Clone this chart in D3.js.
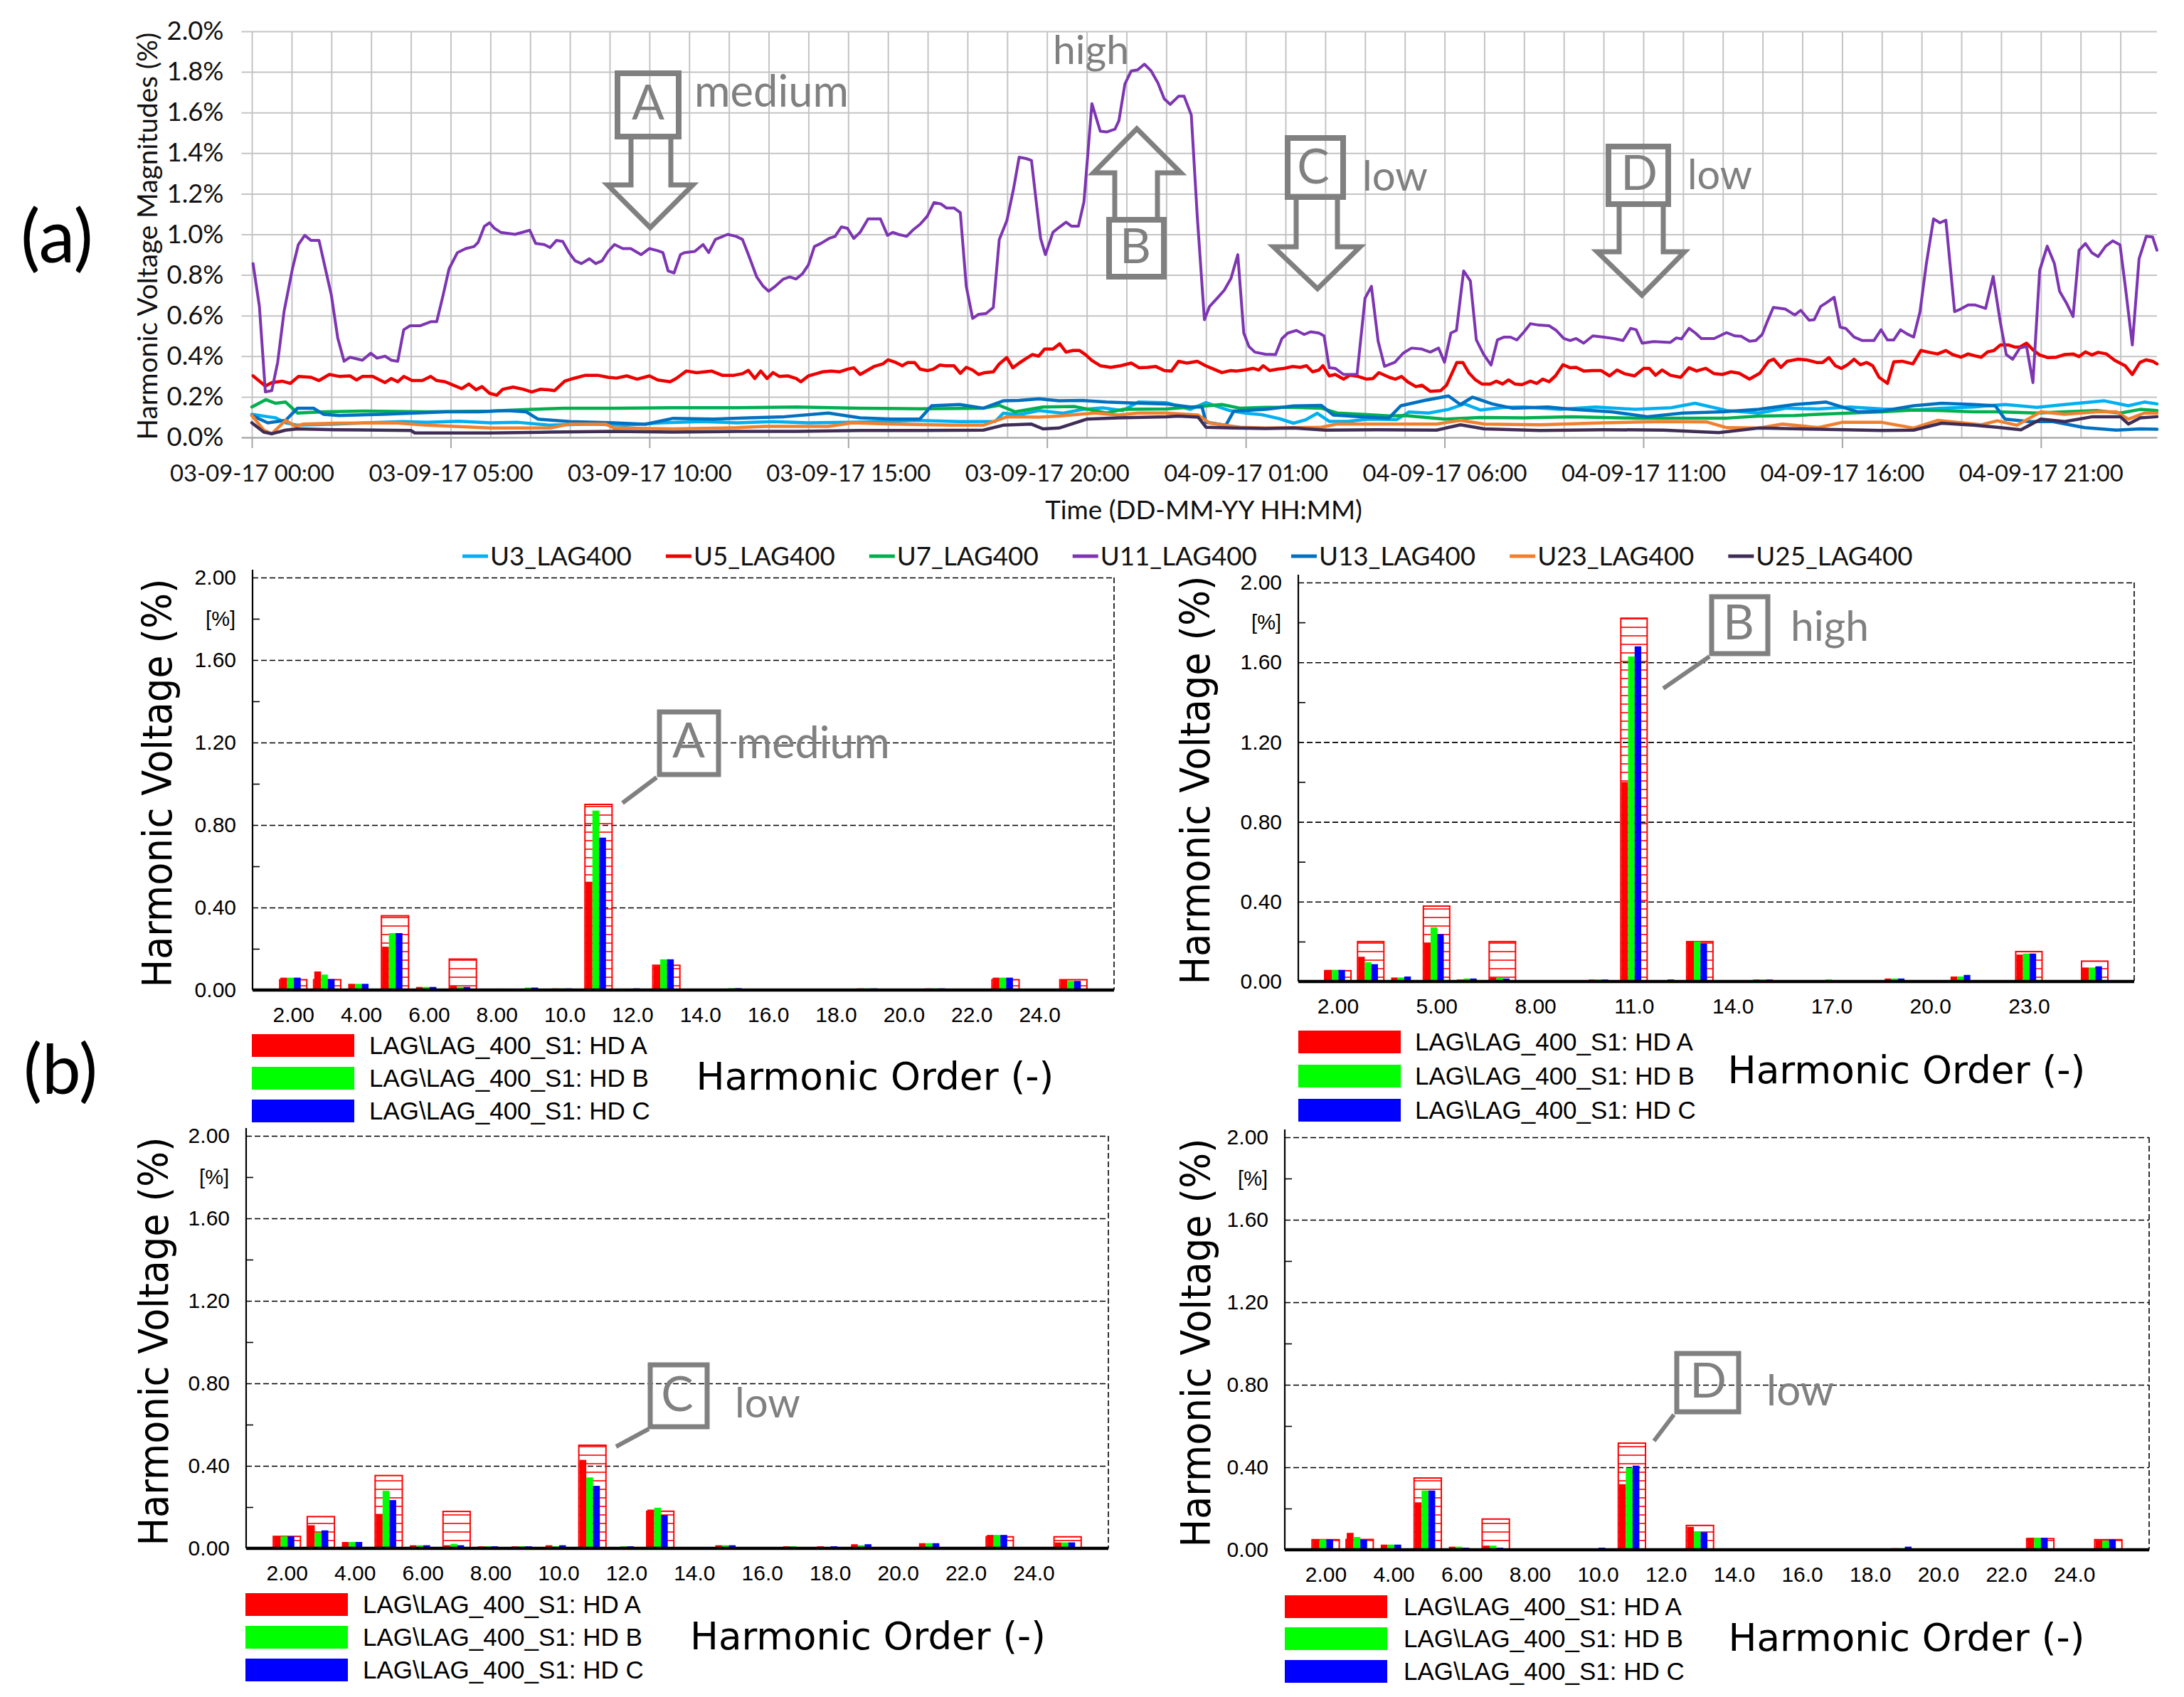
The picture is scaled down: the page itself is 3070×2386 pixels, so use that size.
<!DOCTYPE html>
<html><head><meta charset="utf-8"><title>Harmonic voltage</title>
<script src="https://cdn.jsdelivr.net/npm/d3@7"></script>
<style>html,body{margin:0;padding:0;background:#fff;}svg{display:block;}</style>
</head><body>
<svg id="chart" width="3070" height="2386" xmlns="http://www.w3.org/2000/svg"></svg>
<script>
// ================= DATA =================
// (a) time series: [hour since 03-09-17 00:00, value %]
const timeTickHours = [0,5,10,15,20,25,30,35,40,45];
const timeTickLabels = ["03-09-17 00:00","03-09-17 05:00","03-09-17 10:00","03-09-17 15:00","03-09-17 20:00","04-09-17 01:00","04-09-17 06:00","04-09-17 11:00","04-09-17 16:00","04-09-17 21:00"];
const topYTicks = [0,0.2,0.4,0.6,0.8,1.0,1.2,1.4,1.6,1.8,2.0];
const seriesNames = ["U3_LAG400","U5_LAG400","U7_LAG400","U11_LAG400","U13_LAG400","U23_LAG400","U25_LAG400"];
const seriesColors = ["#00b0f0","#ee0000","#00b050","#7d35b2","#0070c0","#f0802e","#3f2d55"];

const u3Data = [[0,0.114],[0.4,0.102],[0.6,0.096],[0.85,0.072],[1.15,0.06],[2.1,0.066],[2.9,0.072],[3.8,0.078],[4.4,0.074],[5.2,0.08],[6.0,0.072],[6.7,0.074],[7.5,0.06],[8.5,0.066],[9.4,0.06],[10.3,0.072],[11.3,0.078],[12.2,0.072],[13.1,0.078],[14.0,0.072],[15.0,0.074],[15.9,0.078],[16.7,0.084],[17.8,0.078],[18.7,0.079],[18.9,0.119],[19.3,0.112],[19.8,0.132],[20.4,0.119],[20.9,0.138],[21.4,0.145],[21.9,0.132],[22.3,0.174],[23.0,0.171],[23.6,0.138],[24.0,0.171],[24.6,0.132],[25.0,0.119],[25.4,0.112],[25.85,0.092],[26.2,0.07],[26.5,0.086],[26.8,0.119],[27.1,0.079],[27.6,0.08],[28.1,0.09],[28.8,0.088],[29.1,0.125],[29.6,0.12],[30.1,0.138],[30.5,0.165],[30.9,0.135],[31.5,0.148],[32.0,0.15],[32.9,0.138],[33.8,0.15],[34.8,0.138],[35.7,0.146],[36.3,0.168],[37.1,0.132],[37.9,0.12],[38.6,0.144],[39.4,0.14],[40.2,0.15],[41.0,0.14],[41.8,0.135],[42.5,0.144],[43.3,0.15],[44.1,0.162],[44.9,0.148],[45.6,0.162],[46.6,0.18],[47.2,0.156],[47.6,0.174],[47.92,0.165]];
const u5Data = [[0.03,0.303],[0.34,0.253],[0.5,0.27],[0.76,0.277],[0.97,0.266],[1.17,0.30],[1.49,0.296],[1.69,0.28],[1.95,0.31],[2.21,0.30],[2.47,0.303],[2.63,0.283],[2.78,0.30],[3.04,0.30],[3.35,0.27],[3.51,0.29],[3.67,0.274],[3.82,0.30],[4.03,0.28],[4.29,0.28],[4.5,0.30],[4.65,0.28],[4.86,0.274],[5.07,0.257],[5.28,0.24],[5.46,0.263],[5.64,0.235],[5.79,0.25],[5.98,0.217],[6.16,0.208],[6.31,0.237],[6.57,0.248],[6.83,0.237],[7.04,0.224],[7.25,0.237],[7.46,0.235],[7.61,0.23],[7.87,0.277],[8.08,0.29],[8.39,0.306],[8.7,0.306],[8.96,0.296],[9.17,0.292],[9.43,0.303],[9.69,0.287],[10.0,0.303],[10.21,0.283],[10.52,0.274],[10.67,0.29],[10.93,0.327],[11.19,0.319],[11.56,0.327],[11.83,0.306],[12.13,0.306],[12.34,0.314],[12.49,0.33],[12.65,0.29],[12.8,0.327],[12.96,0.29],[13.11,0.319],[13.27,0.30],[13.48,0.303],[13.69,0.29],[13.81,0.274],[14.0,0.303],[14.2,0.314],[14.36,0.323],[14.57,0.327],[14.78,0.323],[14.98,0.336],[15.14,0.343],[15.3,0.31],[15.66,0.35],[15.87,0.362],[16.0,0.382],[16.2,0.369],[16.36,0.353],[16.5,0.369],[16.67,0.369],[16.81,0.336],[16.99,0.329],[17.14,0.336],[17.3,0.356],[17.45,0.353],[17.66,0.353],[17.82,0.316],[17.97,0.345],[18.13,0.332],[18.28,0.31],[18.44,0.319],[18.65,0.323],[18.8,0.362],[18.99,0.393],[19.14,0.343],[19.3,0.366],[19.48,0.389],[19.63,0.408],[19.79,0.40],[19.94,0.435],[20.15,0.435],[20.32,0.461],[20.48,0.42],[20.65,0.428],[20.82,0.428],[20.98,0.406],[21.13,0.379],[21.34,0.353],[21.6,0.345],[21.85,0.353],[22.12,0.366],[22.32,0.343],[22.53,0.345],[22.74,0.349],[22.95,0.329],[23.13,0.327],[23.31,0.375],[23.52,0.366],[23.78,0.375],[23.99,0.353],[24.2,0.336],[24.4,0.319],[24.61,0.329],[24.77,0.327],[24.97,0.332],[25.18,0.34],[25.33,0.332],[25.44,0.353],[25.6,0.329],[25.8,0.336],[25.96,0.34],[26.17,0.349],[26.37,0.345],[26.53,0.353],[26.68,0.323],[26.84,0.332],[26.94,0.353],[27.1,0.303],[27.25,0.31],[27.46,0.287],[27.62,0.306],[27.83,0.30],[28.04,0.287],[28.2,0.29],[28.35,0.319],[28.61,0.296],[28.76,0.287],[28.92,0.30],[29.07,0.274],[29.28,0.25],[29.43,0.257],[29.64,0.227],[29.9,0.23],[30.05,0.257],[30.31,0.369],[30.46,0.369],[30.62,0.316],[30.78,0.283],[30.94,0.263],[31.15,0.263],[31.3,0.277],[31.46,0.263],[31.61,0.283],[31.77,0.263],[31.95,0.26],[32.16,0.277],[32.32,0.266],[32.47,0.287],[32.63,0.274],[32.79,0.303],[32.98,0.358],[33.16,0.343],[33.31,0.345],[33.5,0.327],[33.73,0.329],[33.94,0.329],[34.15,0.303],[34.34,0.332],[34.52,0.314],[34.78,0.303],[35.01,0.34],[35.15,0.34],[35.31,0.306],[35.47,0.332],[35.68,0.306],[35.94,0.296],[36.15,0.343],[36.34,0.327],[36.57,0.34],[36.78,0.314],[36.99,0.31],[37.2,0.323],[37.41,0.316],[37.67,0.287],[37.93,0.316],[38.15,0.375],[38.28,0.385],[38.46,0.345],[38.62,0.375],[38.88,0.385],[39.1,0.382],[39.36,0.369],[39.51,0.369],[39.67,0.393],[39.83,0.353],[39.98,0.34],[40.14,0.358],[40.3,0.385],[40.46,0.358],[40.62,0.369],[40.77,0.353],[40.93,0.296],[41.14,0.266],[41.3,0.372],[41.51,0.375],[41.78,0.362],[41.98,0.428],[42.19,0.419],[42.4,0.411],[42.61,0.428],[42.78,0.408],[42.99,0.395],[43.17,0.411],[43.38,0.40],[43.5,0.395],[43.66,0.421],[43.82,0.428],[43.98,0.455],[44.19,0.455],[44.34,0.445],[44.47,0.445],[44.64,0.464],[44.82,0.428],[44.97,0.406],[45.18,0.393],[45.39,0.395],[45.6,0.408],[45.81,0.411],[45.96,0.398],[46.12,0.421],[46.28,0.406],[46.44,0.419],[46.65,0.411],[46.86,0.379],[47.12,0.353],[47.3,0.31],[47.49,0.369],[47.65,0.382],[47.81,0.375],[47.92,0.362]];
const u7Data = [[0,0.15],[0.35,0.186],[0.6,0.168],[0.85,0.174],[1.15,0.12],[1.8,0.126],[2.9,0.13],[4.4,0.126],[6.0,0.13],[7.05,0.138],[7.85,0.144],[9.1,0.144],[10.6,0.146],[12.2,0.146],[13.7,0.15],[15.3,0.144],[16.8,0.141],[18.4,0.144],[18.8,0.158],[19.2,0.126],[19.9,0.15],[20.7,0.152],[21.5,0.12],[21.9,0.138],[23.0,0.14],[24.0,0.155],[24.4,0.162],[24.85,0.144],[25.5,0.148],[26.2,0.148],[26.9,0.144],[27.3,0.12],[27.9,0.114],[28.6,0.106],[29.0,0.108],[30.0,0.09],[30.9,0.098],[32.0,0.096],[33.2,0.102],[34.8,0.095],[36.3,0.095],[37.1,0.095],[37.9,0.105],[38.8,0.108],[39.4,0.114],[40.2,0.12],[41.0,0.126],[41.8,0.135],[42.5,0.132],[43.3,0.126],[43.9,0.126],[44.9,0.12],[45.6,0.126],[46.4,0.132],[47.0,0.12],[47.5,0.138],[47.92,0.132]];
const u11Data = [[0.03,0.856],[0.19,0.645],[0.34,0.224],[0.5,0.23],[0.65,0.37],[0.81,0.62],[1.02,0.83],[1.17,0.95],[1.33,0.995],[1.49,0.97],[1.69,0.97],[1.85,0.83],[2.0,0.70],[2.16,0.49],[2.32,0.375],[2.47,0.395],[2.78,0.38],[2.99,0.415],[3.15,0.39],[3.35,0.40],[3.51,0.38],[3.67,0.375],[3.82,0.53],[3.98,0.55],[4.24,0.55],[4.5,0.57],[4.65,0.57],[4.81,0.70],[4.96,0.83],[5.17,0.91],[5.38,0.93],[5.59,0.94],[5.69,0.96],[5.85,1.04],[5.98,1.057],[6.1,1.03],[6.26,1.01],[6.62,1.0],[6.99,1.02],[7.14,0.955],[7.35,0.95],[7.5,0.935],[7.66,0.97],[7.82,0.965],[7.98,0.91],[8.13,0.87],[8.29,0.856],[8.49,0.88],[8.65,0.856],[8.81,0.87],[8.96,0.916],[9.12,0.95],[9.33,0.93],[9.53,0.93],[9.79,0.90],[10.0,0.93],[10.2,0.92],[10.34,0.91],[10.47,0.82],[10.62,0.81],[10.78,0.90],[10.88,0.91],[11.14,0.916],[11.35,0.95],[11.49,0.91],[11.66,0.975],[11.97,1.0],[12.18,0.99],[12.34,0.975],[12.49,0.90],[12.7,0.79],[12.86,0.745],[13.0,0.72],[13.17,0.745],[13.37,0.78],[13.53,0.79],[13.69,0.78],[13.85,0.806],[14.0,0.85],[14.15,0.94],[14.31,0.955],[14.52,0.98],[14.67,0.99],[14.83,1.037],[14.98,1.03],[15.14,0.98],[15.3,1.01],[15.5,1.076],[15.81,1.076],[15.99,0.995],[16.12,1.01],[16.26,1.0],[16.47,0.99],[16.62,1.02],[16.81,1.05],[16.99,1.09],[17.16,1.157],[17.33,1.15],[17.47,1.13],[17.66,1.13],[17.82,1.107],[17.97,0.744],[18.13,0.586],[18.28,0.606],[18.47,0.61],[18.65,0.64],[18.8,0.975],[18.99,1.067],[19.16,1.225],[19.3,1.38],[19.48,1.373],[19.61,1.364],[19.73,1.16],[19.84,0.98],[19.96,0.90],[20.15,1.01],[20.3,1.034],[20.48,1.06],[20.62,1.04],[20.79,1.04],[20.93,1.16],[21.13,1.644],[21.34,1.508],[21.5,1.504],[21.71,1.518],[21.81,1.56],[21.96,1.74],[22.12,1.805],[22.28,1.81],[22.45,1.838],[22.62,1.805],[22.79,1.746],[22.95,1.667],[23.1,1.64],[23.31,1.68],[23.45,1.68],[23.63,1.588],[23.78,1.09],[23.96,0.58],[24.09,0.645],[24.28,0.685],[24.46,0.725],[24.63,0.784],[24.8,0.90],[24.95,0.514],[25.08,0.448],[25.23,0.42],[25.49,0.41],[25.75,0.408],[25.91,0.487],[26.06,0.514],[26.27,0.527],[26.47,0.507],[26.63,0.52],[26.84,0.514],[26.97,0.50],[27.1,0.343],[27.25,0.34],[27.46,0.31],[27.8,0.31],[28.0,0.685],[28.16,0.744],[28.33,0.474],[28.49,0.35],[28.75,0.37],[28.96,0.415],[29.17,0.44],[29.43,0.435],[29.64,0.42],[29.85,0.44],[30.0,0.37],[30.16,0.514],[30.3,0.527],[30.48,0.82],[30.65,0.77],[30.8,0.48],[30.98,0.41],[31.17,0.356],[31.33,0.48],[31.5,0.494],[31.66,0.494],[31.82,0.48],[32.0,0.52],[32.16,0.56],[32.37,0.553],[32.63,0.55],[32.81,0.527],[33.0,0.487],[33.16,0.477],[33.31,0.487],[33.5,0.464],[33.73,0.50],[34.0,0.494],[34.26,0.487],[34.49,0.477],[34.68,0.537],[34.82,0.53],[34.97,0.464],[35.26,0.472],[35.68,0.468],[35.83,0.49],[35.96,0.485],[36.15,0.537],[36.31,0.514],[36.46,0.487],[36.78,0.487],[37.09,0.516],[37.3,0.50],[37.46,0.498],[37.67,0.474],[37.83,0.477],[37.99,0.507],[38.11,0.567],[38.27,0.64],[38.57,0.632],[38.81,0.603],[38.96,0.626],[39.17,0.577],[39.3,0.58],[39.46,0.645],[39.62,0.665],[39.8,0.69],[39.95,0.543],[40.09,0.537],[40.3,0.494],[40.51,0.477],[40.8,0.477],[40.98,0.53],[41.14,0.48],[41.3,0.48],[41.47,0.53],[41.63,0.51],[41.8,0.494],[41.96,0.619],[42.12,0.856],[42.3,1.076],[42.46,1.057],[42.61,1.07],[42.83,0.619],[42.98,0.632],[43.17,0.652],[43.35,0.652],[43.61,0.635],[43.8,0.793],[43.98,0.567],[44.13,0.408],[44.29,0.385],[44.47,0.44],[44.64,0.448],[44.8,0.27],[44.97,0.823],[45.16,0.942],[45.34,0.856],[45.47,0.72],[45.65,0.659],[45.81,0.595],[45.96,0.922],[46.12,0.955],[46.28,0.91],[46.44,0.89],[46.63,0.942],[46.81,0.968],[46.99,0.948],[47.12,0.75],[47.3,0.455],[47.47,0.88],[47.65,0.99],[47.81,0.987],[47.92,0.922]];
const u13Data = [[0,0.108],[0.4,0.072],[0.85,0.084],[1.15,0.144],[1.55,0.144],[1.8,0.114],[2.2,0.108],[3.3,0.114],[4.1,0.12],[4.9,0.126],[5.7,0.126],[6.4,0.132],[6.9,0.126],[7.2,0.09],[8.0,0.078],[9.1,0.072],[9.9,0.065],[10.6,0.094],[11.6,0.09],[12.5,0.096],[13.4,0.102],[14.5,0.12],[15.3,0.096],[16.1,0.09],[16.8,0.09],[17.1,0.156],[17.8,0.162],[18.4,0.144],[18.9,0.18],[19.3,0.182],[19.8,0.19],[20.3,0.18],[20.9,0.182],[21.5,0.174],[22.1,0.17],[23.0,0.165],[23.6,0.15],[23.9,0.15],[24.0,0.075],[24.5,0.06],[24.7,0.13],[25.5,0.138],[26.2,0.155],[26.9,0.158],[27.2,0.11],[27.9,0.102],[28.6,0.095],[28.9,0.156],[29.5,0.182],[30.1,0.204],[30.4,0.162],[30.7,0.198],[31.2,0.165],[31.7,0.144],[32.6,0.15],[33.2,0.138],[34.2,0.126],[35.1,0.102],[36.0,0.12],[37.0,0.126],[37.9,0.138],[38.8,0.162],[39.6,0.174],[40.4,0.126],[41.0,0.13],[41.8,0.156],[42.5,0.168],[43.3,0.162],[43.85,0.156],[44.1,0.09],[44.7,0.078],[45.3,0.078],[46.1,0.048],[46.9,0.036],[47.5,0.042],[47.92,0.04]];
const u23Data = [[0,0.108],[0.3,0.036],[0.5,0.018],[0.85,0.084],[1.1,0.054],[1.3,0.066],[2.1,0.07],[3.6,0.072],[4.4,0.06],[6.0,0.046],[7.5,0.046],[8.0,0.066],[8.9,0.066],[9.1,0.046],[10.6,0.042],[12.2,0.048],[12.9,0.054],[14.5,0.054],[15.1,0.072],[16.1,0.066],[17.6,0.06],[18.4,0.06],[19.0,0.102],[19.8,0.1],[20.3,0.105],[21.2,0.12],[21.8,0.11],[22.3,0.12],[23.0,0.12],[23.8,0.11],[24.1,0.07],[24.5,0.06],[24.85,0.05],[25.5,0.046],[26.9,0.05],[27.3,0.066],[28.6,0.066],[29.8,0.066],[30.4,0.084],[31.0,0.066],[32.4,0.062],[34.0,0.072],[35.5,0.078],[36.6,0.076],[37.1,0.048],[37.9,0.046],[38.5,0.066],[39.4,0.048],[40.0,0.074],[41.0,0.074],[41.8,0.046],[42.4,0.084],[43.5,0.062],[43.9,0.082],[44.4,0.06],[45.0,0.126],[45.6,0.114],[46.4,0.126],[46.9,0.126],[47.2,0.09],[47.6,0.12],[47.92,0.12]];
const u25Data = [[0,0.072],[0.3,0.026],[0.5,0.018],[0.85,0.036],[1.15,0.042],[2.1,0.038],[4.0,0.034],[4.1,0.022],[6.0,0.022],[7.5,0.026],[9.1,0.03],[10.6,0.026],[12.2,0.03],[13.7,0.03],[15.3,0.034],[16.8,0.034],[18.4,0.036],[18.9,0.06],[19.6,0.066],[19.9,0.042],[20.3,0.046],[21.0,0.09],[21.8,0.096],[23.0,0.102],[23.3,0.105],[23.8,0.1],[24.0,0.05],[24.7,0.046],[25.5,0.044],[26.2,0.046],[27.0,0.036],[28.3,0.038],[29.8,0.036],[30.4,0.062],[31.0,0.042],[32.4,0.034],[34.0,0.038],[35.5,0.036],[36.9,0.024],[37.9,0.046],[39.4,0.04],[41.0,0.034],[41.8,0.036],[42.5,0.07],[43.3,0.06],[43.9,0.05],[44.5,0.038],[45.0,0.09],[45.6,0.078],[46.3,0.102],[47.0,0.102],[47.2,0.066],[47.5,0.096],[47.92,0.102]];
const seriesData = [u3Data,u5Data,u7Data,u11Data,u13Data,u23Data,u25Data];

// (b) harmonic spectra
const harmonicOrders = [2,3,4,5,6,7,8,9,10,11,12,13,14,15,16,17,18,19,20,21,22,23,24,25];
const barYTicks = [0,0.4,0.8,1.2,1.6,2.0];
const barYMinor = [0.2,0.6,1.0,1.4,1.8];
const xTicksEven = [2,4,6,8,10,12,14,16,18,20,22,24];
const xTicksThree = [2,5,8,11,14,17,20,23];
const legendLabels = ["LAG\\LAG_400_S1: HD A","LAG\\LAG_400_S1: HD B","LAG\\LAG_400_S1: HD C"];
const barColors = ["#ff0000","#00ff00","#0000ff"];

// panel A (medium)
const aHdA = [0.06,0.09,0.03,0.21,0.015,0.02,0.007,0.007,0.008,0.525,0.003,0.117,0.003,0.007,0.003,0.004,0.004,0.008,0.003,0.008,0.003,0.06,0.003,0.05];
const aHdB = [0.06,0.075,0.03,0.276,0.015,0.015,0.007,0.012,0.008,0.87,0.004,0.149,0.004,0.009,0.004,0.004,0.004,0.008,0.004,0.008,0.004,0.06,0.003,0.044];
const aHdC = [0.06,0.053,0.03,0.276,0.015,0.015,0.007,0.012,0.008,0.739,0.008,0.149,0.004,0.009,0.004,0.004,0.004,0.008,0.004,0.008,0.004,0.06,0.003,0.044];
const aLimit = [0.05,0.05,0,0.36,0,0.15,0,0,0,0.9,0,0.12,0,0,0,0,0,0,0,0,0,0.05,0,0.05];
// panel B (high)
const bHdA = [0.058,0.124,0.02,0.193,0.01,0.02,0.004,0.004,0.01,1.0,0.003,0.2,0.004,0.01,0.004,0.004,0.004,0.015,0.004,0.025,0.004,0.135,0.004,0.07];
const bHdB = [0.058,0.097,0.02,0.272,0.015,0.02,0.004,0.004,0.01,1.629,0.004,0.2,0.004,0.01,0.004,0.01,0.004,0.015,0.004,0.025,0.004,0.14,0.004,0.07];
const bHdC = [0.058,0.087,0.025,0.237,0.015,0.015,0.004,0.004,0.01,1.68,0.01,0.19,0.003,0.01,0.004,0.005,0.004,0.015,0.004,0.033,0.004,0.14,0.004,0.076];
const bLimit = [0.054,0.2,0,0.378,0,0.2,0,0,0,1.821,0,0.2,0,0,0,0,0,0,0,0,0,0.15,0,0.102];
// panel C (low)
const cHdA = [0.058,0.112,0.031,0.167,0.015,0.015,0.01,0.01,0.015,0.429,0.005,0.188,0.005,0.015,0.005,0.01,0.01,0.02,0.005,0.025,0.005,0.065,0.005,0.029];
const cHdB = [0.058,0.076,0.031,0.279,0.015,0.022,0.01,0.01,0.01,0.344,0.01,0.197,0.005,0.015,0.005,0.01,0.005,0.015,0.005,0.025,0.005,0.065,0.005,0.029];
const cHdC = [0.058,0.087,0.031,0.234,0.015,0.015,0.01,0.01,0.015,0.303,0.01,0.161,0.005,0.015,0.005,0.005,0.01,0.02,0.005,0.025,0.005,0.065,0.005,0.029];
const cLimit = [0.058,0.154,0,0.353,0,0.179,0,0,0,0.5,0,0.18,0,0,0,0,0,0,0,0,0,0.056,0,0.056];
// panel D (low)
const dHdA = [0.05,0.082,0.025,0.23,0.015,0.02,0.005,0.005,0.005,0.318,0.005,0.111,0.005,0.005,0.005,0.005,0.005,0.008,0.005,0.005,0.005,0.058,0.005,0.044];
const dHdB = [0.05,0.062,0.025,0.287,0.015,0.02,0.005,0.005,0.005,0.396,0.005,0.089,0.005,0.005,0.005,0.005,0.005,0.008,0.005,0.005,0.005,0.058,0.005,0.044];
const dHdC = [0.05,0.049,0.025,0.287,0.01,0.01,0.005,0.005,0.01,0.408,0.005,0.085,0.005,0.005,0.005,0.005,0.005,0.015,0.005,0.005,0.005,0.058,0.005,0.05];
const dLimit = [0.049,0.05,0,0.348,0,0.149,0,0,0,0.517,0,0.118,0,0,0,0,0,0,0,0,0,0.054,0,0.049];

// ================= DRAWING =================
const CAL = "Lato, 'Open Sans', sans-serif";
const ARI = "'Liberation Sans', Arial, sans-serif";
const VER = "'DejaVu Sans', Verdana, sans-serif";
const GRAY = "#808080";
const svg = d3.select("#chart");
svg.append("rect").attr("width",3070).attr("height",2386).attr("fill","#fff");

function fitFont(sel, w){
  const fs = +sel.attr("font-size");
  const L = sel.node().getComputedTextLength();
  if (L > 0) sel.attr("font-size", fs * w / L);
  return +sel.attr("font-size");
}

const defs = svg.append("defs");
const pat = defs.append("pattern").attr("id","hatch").attr("patternUnits","userSpaceOnUse").attr("width",10).attr("height",12);
pat.append("line").attr("x1",0).attr("x2",10).attr("y1",6).attr("y2",6).attr("stroke","#ff0000").attr("stroke-width",1.6);

// ---------- (a) ----------
const TL = 339.5, TR = 3032, TT = 44, TB = 615;
const TX = d3.scaleLinear().domain([-0.26, 47.92]).range([TL, TR]);
const TY = d3.scaleLinear().domain([0, 2]).range([TB, TT]);
const gA = svg.append("g");

gA.append("g").attr("transform",`translate(${TL},0)`)
  .call(d3.axisLeft(TY).tickValues(topYTicks).tickSize(-(TR-TL)).tickFormat(""))
  .call(g=>g.select(".domain").remove())
  .selectAll("line").attr("stroke","#c4c4c4").attr("stroke-width",2);
gA.append("g").attr("transform",`translate(0,${TB})`)
  .call(d3.axisBottom(TX).tickValues(d3.range(0,48)).tickSize(-(TB-TT)).tickFormat(""))
  .call(g=>g.select(".domain").remove())
  .selectAll("line").attr("stroke","#c4c4c4").attr("stroke-width",2);

const xAx = gA.append("g").attr("transform",`translate(0,${TB})`)
  .call(d3.axisBottom(TX).tickValues(timeTickHours).tickSizeInner(15).tickSizeOuter(0).tickFormat((d,i)=>timeTickLabels[i]));
xAx.select(".domain").attr("stroke","#a6a6a6").attr("stroke-width",2);
xAx.selectAll("line").attr("stroke","#a6a6a6").attr("stroke-width",2);
xAx.selectAll("text").attr("y",51).attr("dy","0.35em").attr("font-family",CAL).attr("font-size",36).attr("fill","#111");
const xfs = fitFont(xAx.select("text"), 231);
xAx.selectAll("text").attr("font-size", xfs);

const yAx = gA.append("g").attr("transform",`translate(${TL},0)`)
  .call(d3.axisLeft(TY).tickValues(topYTicks).tickSize(0).tickPadding(25).tickFormat(d=>d.toFixed(1)+"%"));
yAx.select(".domain").remove();
yAx.selectAll("text").attr("font-family",CAL).attr("font-size",38).attr("fill","#111");
const yfs = fitFont(yAx.selectAll("text").filter(d=>d===2), 80);
yAx.selectAll("text").attr("font-size", yfs);

const yT = gA.append("text").attr("transform","translate(207,332) rotate(-90)").attr("text-anchor","middle").attr("dy","0.35em")
  .attr("font-family",CAL).attr("font-size",38).attr("fill","#111").text("Harmonic Voltage Magnitudes (%)");
fitFont(yT, 573);
const xT = gA.append("text").attr("x",1692).attr("y",717).attr("text-anchor","middle").attr("dy","0.35em")
  .attr("font-family",CAL).attr("font-size",38).attr("fill","#111").text("Time (DD-MM-YY HH:MM)");
fitFont(xT, 446);

const line = d3.line().x(d=>TX(d[0])).y(d=>TY(d[1]));
seriesData.forEach((s,i)=>{
  gA.append("path").attr("d",line(s)).attr("fill","none").attr("stroke",seriesColors[i])
    .attr("stroke-width", i===3 ? 4 : 4.5).attr("stroke-linejoin","round").attr("stroke-linecap","round");
});

// legend of (a)
{
  let lx = 650; const ly = 782; let lf = null;
  seriesNames.forEach((n,i)=>{
    gA.append("line").attr("x1",lx).attr("x2",lx+36).attr("y1",ly).attr("y2",ly).attr("stroke",seriesColors[i]).attr("stroke-width",5);
    const t = gA.append("text").attr("x",lx+39).attr("y",ly).attr("dy","0.35em").attr("font-family",CAL)
      .attr("font-size", lf || 40).attr("fill","#111").text(n);
    if (!lf) lf = fitFont(t, 199);
    lx = lx + 39 + t.node().getComputedTextLength() + 48;
  });
}

// annotation helpers
function box(g, b, sw){
  g.append("rect").attr("x",b[0]).attr("y",b[1]).attr("width",b[2]-b[0]).attr("height",b[3]-b[1])
    .attr("fill","none").attr("stroke",GRAY).attr("stroke-width",sw);
}
function arrow(g, a){
  const p = d3.path();
  p.moveTo(a.sl, a.base); p.lineTo(a.sl, a.sh); p.lineTo(a.hl, a.sh); p.lineTo(a.tx, a.ty);
  p.lineTo(a.hr, a.sh); p.lineTo(a.sr, a.sh); p.lineTo(a.sr, a.base);
  g.append("path").attr("d",p.toString()).attr("fill","none").attr("stroke",GRAY).attr("stroke-width",7).attr("stroke-linejoin","miter");
}
function grayText(g, x, y, txt, fs, anchor, w){
  const t = g.append("text").attr("x",x).attr("y",y).attr("text-anchor",anchor).attr("font-family",CAL)
    .attr("font-size",fs).attr("fill",GRAY).text(txt);
  if (w) fitFont(t, w);
  return t;
}
const topAnn = [
  {b:[868,103,954,192], L:"A", lx:911, ly:168, w:"medium", wx:976, wy:150, ww:217,
   ar:{sl:887,sr:943,base:192,sh:260,hl:854,hr:974,tx:914,ty:320}},
  {b:[1559,309,1636,389], L:"B", lx:1596, ly:370, w:"high", wx:1480, wy:90, ww:107,
   ar:{sl:1567,sr:1627,base:309,sh:243,hl:1537,hr:1660,tx:1598,ty:181}},
  {b:[1810,194,1888,277], L:"C", lx:1846, ly:258, w:"low", wx:1915, wy:268, ww:92,
   ar:{sl:1822,sr:1880,base:277,sh:347,hl:1790,hr:1912,tx:1852,ty:406}},
  {b:[2261,206,2345,287], L:"D", lx:2304, ly:267, w:"low", wx:2372, wy:266, ww:91,
   ar:{sl:2276,sr:2338,base:287,sh:354,hl:2245,hr:2368,tx:2308,ty:415}}
];
topAnn.forEach(a=>{
  box(gA, a.b, 8);
  arrow(gA, a.ar);
  grayText(gA, a.lx, a.ly, a.L, 68, "middle");
  grayText(gA, a.wx, a.wy, a.w, 60, "start", a.ww);
});

// (a) (b) labels
fitFont(svg.append("text").attr("x",29).attr("y",333).attr("dy","0.35em").attr("font-family",CAL).attr("font-size",90).attr("fill","#000").text("(a)"),102);
fitFont(svg.append("text").attr("x",33).attr("y",1504).attr("dy","0.35em").attr("font-family",CAL).attr("font-size",90).attr("fill","#000").text("(b)"),104);

// ---------- (b) panels ----------
const panels = [
 {l:355,r:1566,t:812,b:1392, hd:[aHdA,aHdB,aHdC], lim:aLimit, xt:xTicksEven, legRect:354, legText:519, legY:[1470,1516,1562], order:[1230,1513,503], yTitle:[221,1101],
  ann:{box:[927,1001,1010,1089], L:"A", lx:968, ly:1065, w:"medium", wx:1035, wy:1066, ww:216, lead:[923,1093,875,1129]}},
 {l:1825,r:3000,t:819,b:1380, hd:[bHdA,bHdB,bHdC], lim:bLimit, xt:xTicksThree, legRect:1825, legText:1989, legY:[1465,1513,1561], order:[2680,1504,503], yTitle:[1680,1097],
  ann:{box:[2406,839,2485,919], L:"B", lx:2444, ly:899, w:"high", wx:2517, wy:901, ww:110, lead:[2403,923,2338,968]}},
 {l:346,r:1558,t:1597,b:2177, hd:[cHdA,cHdB,cHdC], lim:cLimit, xt:xTicksEven, legRect:345, legText:510, legY:[2256,2302,2348], order:[1220,2300,500], yTitle:[216,1886],
  ann:{box:[914,1919,994,2006], L:"C", lx:952, ly:1984, w:"low", wx:1033, wy:1993, ww:92, lead:[912,2009,866,2034]}},
 {l:1806,r:3021,t:1599,b:2179, hd:[dHdA,dHdB,dHdC], lim:dLimit, xt:xTicksEven, legRect:1806, legText:1973, legY:[2259,2304,2350], order:[2680,2302,501], yTitle:[1681,1888],
  ann:{box:[2357,1903,2444,1985], L:"D", lx:2401, ly:1965, w:"low", wx:2483, wy:1976, ww:95, lead:[2353,1989,2325,2026]}}
];

panels.forEach(p=>{
  const g = svg.append("g");
  const x = d3.scaleLinear().domain([0.8, 26.2]).range([p.l, p.r]);
  const y = d3.scaleLinear().domain([0, 2]).range([p.b, p.t]);

  // dashed gridlines
  g.append("g").attr("transform",`translate(${p.l},0)`)
    .call(d3.axisLeft(y).tickValues(barYTicks.filter(v=>v>0)).tickSize(-(p.r-p.l)).tickFormat(""))
    .call(s=>s.select(".domain").remove())
    .selectAll("line").attr("stroke","#000").attr("stroke-width",1.6).attr("stroke-dasharray","8,4");
  g.append("line").attr("x1",p.r).attr("x2",p.r).attr("y1",p.t).attr("y2",p.b)
    .attr("stroke","#000").attr("stroke-width",1.6).attr("stroke-dasharray","8,4");
  // minor ticks
  g.append("g").attr("transform",`translate(${p.l},0)`)
    .call(d3.axisRight(y).tickValues(barYMinor).tickSize(10).tickFormat(""))
    .call(s=>s.select(".domain").remove())
    .selectAll("line").attr("stroke","#000").attr("stroke-width",1.6);
  // left axis line
  g.append("line").attr("x1",p.l).attr("x2",p.l).attr("y1",p.t-11).attr("y2",p.b).attr("stroke","#000").attr("stroke-width",2.2);
  // y labels
  const ya = g.append("g").attr("transform",`translate(${p.l},0)`)
    .call(d3.axisLeft(y).tickValues(barYTicks).tickSize(0).tickPadding(23).tickFormat(d3.format(".2f")));
  ya.select(".domain").remove();
  ya.selectAll("text").attr("font-family",ARI).attr("font-size",30).attr("fill","#000");
  g.append("text").attr("x",p.l-24).attr("y",y(1.8)).attr("dy","0.35em").attr("text-anchor","end")
    .attr("font-family",ARI).attr("font-size",29).attr("fill","#000").text("[%]");

  // bars
  const bw = 0.2;
  harmonicOrders.forEach((o,i)=>{
    const lv = p.lim[i];
    if (lv > 0){
      g.append("rect").attr("x",x(o-0.4)).attr("width",x(o+0.4)-x(o-0.4)).attr("y",y(lv)).attr("height",y(0)-y(lv))
        .attr("fill","url(#hatch)").attr("stroke","#ff0000").attr("stroke-width",2);
    }
    p.hd.forEach((arr,k)=>{
      const v = arr[i];
      const x0 = o - 0.38 + k*bw;
      g.append("rect").attr("x",x(x0)).attr("width",x(x0+bw)-x(x0)).attr("y",y(v)).attr("height",y(0)-y(v)).attr("fill",barColors[k]);
    });
  });
  g.append("line").attr("x1",p.l).attr("x2",p.r).attr("y1",p.b).attr("y2",p.b).attr("stroke","#000").attr("stroke-width",4.5);

  // x labels
  const xa = g.append("g").attr("transform",`translate(0,${p.b})`)
    .call(d3.axisBottom(x).tickValues(p.xt).tickSize(0).tickFormat(d3.format(".3r")));
  xa.select(".domain").remove();
  xa.selectAll("text").attr("y",34).attr("dy","0.35em").attr("font-family",ARI).attr("font-size",30).attr("fill","#000");

  // y title
  g.append("text").attr("transform",`translate(${p.yTitle[0]},${p.yTitle[1]}) rotate(-90)`)
    .attr("text-anchor","middle").attr("dy","0.35em").attr("font-family",VER).attr("font-size",57).attr("fill","#000")
    .attr("textLength",575).attr("lengthAdjust","spacingAndGlyphs").text("Harmonic Voltage (%)");
  // order label
  const ot = g.append("text").attr("x",p.order[0]).attr("y",p.order[1]).attr("dy","0.35em").attr("text-anchor","middle")
    .attr("font-family",VER).attr("font-size",52).attr("fill","#000").text("Harmonic Order (-)");
  fitFont(ot, p.order[2]);

  // legend
  let lf = null;
  legendLabels.forEach((lab,k)=>{
    g.append("rect").attr("x",p.legRect).attr("y",p.legY[k]-16).attr("width",144).attr("height",32).attr("fill",barColors[k]);
    const t = g.append("text").attr("x",p.legText).attr("y",p.legY[k]).attr("dy","0.35em").attr("font-family",ARI)
      .attr("font-size",lf||33).attr("fill","#000").text(lab);
    if (!lf) lf = fitFont(t, 391);
  });

  // annotation
  const a = p.ann;
  box(g, a.box, 7);
  g.append("line").attr("x1",a.lead[0]).attr("y1",a.lead[1]).attr("x2",a.lead[2]).attr("y2",a.lead[3]).attr("stroke",GRAY).attr("stroke-width",6);
  grayText(g, a.lx, a.ly, a.L, 68, "middle");
  grayText(g, a.wx, a.wy, a.w, 60, "start", a.ww);
});
</script>
</body></html>
